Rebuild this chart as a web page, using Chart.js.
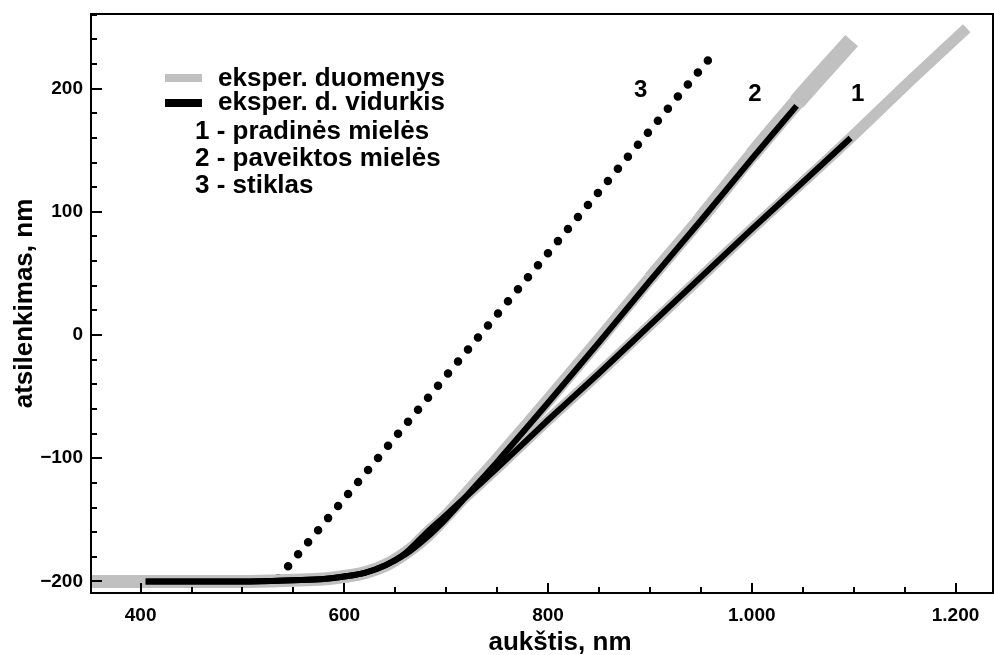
<!DOCTYPE html>
<html>
<head>
<meta charset="utf-8">
<title>atsilenkimas</title>
<script src="https://cdn.jsdelivr.net/npm/chart.js@4.4.1/dist/chart.umd.min.js"></script>
<style>
  html, body { margin: 0; padding: 0; background: #fff; }
</style>
</head>
<body>
<canvas id="deflection" width="994" height="655"></canvas>
<script>
// eksper. d. vidurkis: 1 - pradinės mielės
var xMean1 = [405, 450, 500, 550, 580, 600, 620, 640, 660, 680, 700, 725, 750, 800, 850, 900, 950, 1000, 1050, 1097];
var yMean1 = [-200, -200, -200, -199, -198, -196, -193, -187, -177, -161, -146, -127, -108, -69, -31, 8, 47, 86, 124, 160];

// eksper. d. vidurkis: 2 - paveiktos mielės
var xMean2 = [405, 450, 500, 550, 580, 600, 620, 640, 660, 680, 700, 725, 750, 800, 850, 900, 950, 1000, 1044];
var yMean2 = [-200, -200, -200, -199, -198, -196, -193, -187, -178, -165, -149, -126, -103, -55, -6, 44, 93, 143, 186];

// eksper. duomenys (pilkos juostos)
var xRaw1 = [351, 405, 450, 500, 550, 580, 600, 620, 640, 660, 680, 700, 725, 750, 800, 850, 900, 950, 1000, 1050, 1097, 1150, 1211];
var yRaw1 = [-200, -200, -200, -200, -199, -198, -196, -193, -187, -177, -161, -146, -127, -108, -69, -31, 8, 47, 86, 124, 160, 202, 249];
var xRaw2 = [351, 405, 450, 500, 550, 580, 600, 620, 640, 660, 680, 700, 725, 750, 800, 850, 900, 950, 1000, 1044, 1098];
var yRaw2 = [-200, -200, -200, -200, -199, -198, -196, -193, -187, -177, -164, -147, -124, -101, -53, -4, 46, 95, 146, 189, 239];

// 3 - stiklas
var xGlass = [535, 958];
var yGlass = [-197.5, 224];

var xTicks = [400, 600, 800, 1000, 1200];
var yTicks = [-200, -100, 0, 100, 200];
var legendLabels = ['eksper. duomenys', 'eksper. d. vidurkis', '1 - pradinės mielės', '2 - paveiktos mielės', '3 - stiklas'];
var curveTags = ['1', '2', '3'];

var FONT = '"Liberation Sans", Arial, Helvetica, sans-serif';
var GRAY = '#c0c0c0';

function pts(xs, ys) {
    return xs.map(function (x, i) { return { x: x, y: ys[i] }; });
}

function fmt(v) {
    var s = String(Math.abs(v)).replace(/\B(?=(\d{3})+(?!\d))/g, '.');
    return v < 0 ? '\u2212' + s : s;
}

// the scatter of curve 2 spreads out towards its upper end
function spreadWidth(c) {
    var x = c.p0.parsed.x;
    if (x >= 1044) return 17;
    if (x >= 1000) return 15.5;
    if (x >= 950) return 14.5;
    if (x >= 900) return 13.5;
    return 13;
}

// frame, inward ticks, legend, axis titles and curve numbers
var decor = {
    id: 'decor',
    afterDraw: function (chart) {
        var ctx = chart.ctx, a = chart.chartArea;
        var sx = chart.scales.x, sy = chart.scales.y;
        var v, p, len;
        ctx.save();
        ctx.strokeStyle = '#000';
        ctx.lineWidth = 2;
        ctx.strokeRect(a.left, a.top, a.right - a.left, a.bottom - a.top);

        ctx.beginPath();
        for (v = Math.ceil(sx.min / 50) * 50; v <= sx.max; v += 50) {
            p = Math.round(sx.getPixelForValue(v));
            len = v % 200 === 0 ? 10 : 6;
            ctx.moveTo(p, a.bottom);
            ctx.lineTo(p, a.bottom - len);
        }
        for (v = Math.ceil(sy.min / 20) * 20; v <= sy.max; v += 20) {
            p = Math.round(sy.getPixelForValue(v));
            len = v % 100 === 0 ? 11 : 6;
            ctx.moveTo(a.left, p);
            ctx.lineTo(a.left + len, p);
        }
        ctx.stroke();

        // legend
        var lx = a.left + 74, ly = a.top + 64;
        ctx.lineWidth = 8;
        ctx.strokeStyle = GRAY;
        ctx.beginPath(); ctx.moveTo(lx, ly); ctx.lineTo(lx + 37, ly); ctx.stroke();
        ctx.strokeStyle = '#000';
        ctx.beginPath(); ctx.moveTo(lx, ly + 25); ctx.lineTo(lx + 37, ly + 25); ctx.stroke();

        ctx.fillStyle = '#000';
        ctx.font = 'bold 26px ' + FONT;
        ctx.textAlign = 'left';
        ctx.textBaseline = 'alphabetic';
        ctx.fillText(legendLabels[0], lx + 53, ly + 8);
        ctx.fillText(legendLabels[1], lx + 53, ly + 32);
        ctx.fillText(legendLabels[2], lx + 30, ly + 61);
        ctx.fillText(legendLabels[3], lx + 30, ly + 88);
        ctx.fillText(legendLabels[4], lx + 30, ly + 115);

        // curve numbers next to the upper ends
        var tagAt = [[1104, 195], [1003, 195], [891, 199]];
        ctx.font = 'bold 24px ' + FONT;
        ctx.textAlign = 'center';
        ctx.textBaseline = 'middle';
        curveTags.forEach(function (t, i) {
            ctx.fillText(t, sx.getPixelForValue(tagAt[i][0]), sy.getPixelForValue(tagAt[i][1]));
        });

        // axis titles
        ctx.font = 'bold 26px ' + FONT;
        ctx.textBaseline = 'alphabetic';
        ctx.fillText('aukštis, nm', (a.left + a.right) / 2 + 18, chart.height - 5);
        ctx.translate(32, (a.top + a.bottom) / 2);
        ctx.rotate(-Math.PI / 2);
        ctx.fillText('atsilenkimas, nm', 0, 0);
        ctx.restore();
    }
};

var ctx = document.getElementById('deflection').getContext('2d');
var chart = new Chart(ctx, {
    type: 'scatter',
    data: {
        datasets: [{
            label: '1 - vidurkis',
            data: pts(xMean1, yMean1),
            borderColor: '#000',
            borderWidth: 6
        }, {
            label: '2 - vidurkis',
            data: pts(xMean2, yMean2),
            borderColor: '#000',
            borderWidth: 6
        }, {
            label: '1 - duomenys',
            data: pts(xRaw1, yRaw1),
            borderColor: GRAY,
            borderWidth: 11
        }, {
            label: '2 - duomenys',
            data: pts(xRaw2, yRaw2),
            borderColor: GRAY,
            borderWidth: 13,
            segment: { borderWidth: spreadWidth }
        }, {
            label: '3 - stiklas',
            data: pts(xGlass, yGlass),
            borderColor: '#000',
            borderWidth: 8.5,
            borderDash: [0, 15.65],
            borderCapStyle: 'round'
        }]
    },
    options: {
        responsive: false,
        animation: false,
        layout: { padding: { top: 14, right: 1, left: 0, bottom: 0 } },
        datasets: {
            scatter: {
                showLine: true,
                pointRadius: 0,
                pointHoverRadius: 0,
                cubicInterpolationMode: 'monotone',
                clip: 0
            }
        },
        plugins: {
            legend: { display: false },
            tooltip: { enabled: false }
        },
        scales: {
            x: {
                type: 'linear',
                min: 351.3,
                max: 1236.8,
                grid: { display: false, drawTicks: false },
                border: { display: false },
                afterFit: function (s) {
                    s.height = 62;
                    s.paddingLeft = 0;
                    s.paddingRight = 0;
                },
                afterBuildTicks: function (s) {
                    s.ticks = xTicks.map(function (v) { return { value: v }; });
                },
                ticks: {
                    padding: 11,
                    maxRotation: 0,
                    color: '#000',
                    font: { family: FONT, size: 19, weight: 'bold' },
                    callback: fmt
                }
            },
            y: {
                type: 'linear',
                min: -209.4,
                max: 260.6,
                grid: { display: false, drawTicks: false },
                border: { display: false },
                afterFit: function (s) {
                    s.width = 91;
                    s.paddingTop = 0;
                    s.paddingBottom = 0;
                },
                afterBuildTicks: function (s) {
                    s.ticks = yTicks.map(function (v) { return { value: v }; });
                },
                ticks: {
                    padding: 8,
                    color: '#000',
                    font: { family: FONT, size: 19, weight: 'bold' },
                    callback: fmt
                }
            }
        }
    },
    plugins: [decor]
});
</script>
</body>
</html>
